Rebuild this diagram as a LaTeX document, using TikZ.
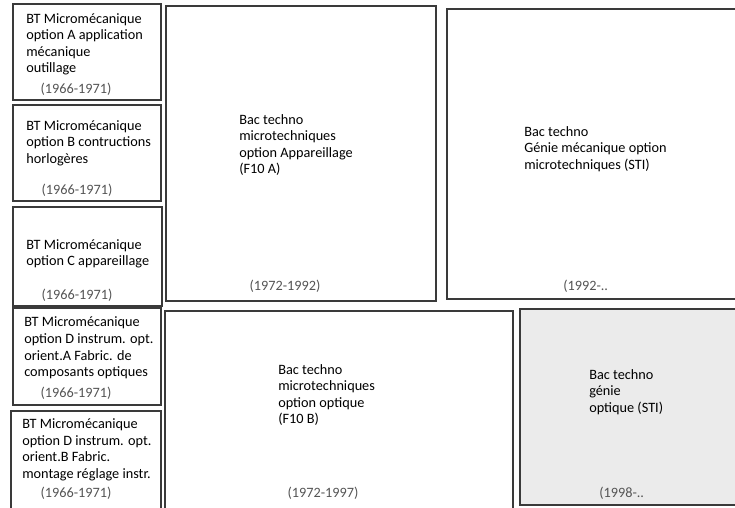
\documentclass[tikz,border=0pt]{standalone}
\usepackage{fontspec}
\setmainfont{Carlito}
\usepackage{tikz}
\usetikzlibrary{fit}
\definecolor{bxedge}{RGB}{58,58,58}
\definecolor{bxgrey}{RGB}{235,235,235}
\definecolor{yrink}{RGB}{85,85,85}
\tikzset{
  cell/.style={draw=bxedge, line width=1.5pt, inner sep=0pt, fill=white},
  greycell/.style={cell, fill=bxgrey},
  txt/.style={align=left, inner sep=0pt, anchor=west,
    font=\fontsize{10.7}{12.4}\selectfont},
  yr/.style={inner sep=0pt, text=yrink, font=\fontsize{10.7}{12.4}\selectfont}
}

\begin{document}
\begin{tikzpicture}[x=0.75pt, y=-0.75pt]
  \useasboundingbox (0,0) rectangle (735,507);
  \clip (0,0) rectangle (735,507);
  % BT column
  \node[cell, fit={(13,4) (161,100)}] (btA) {};
  \node[cell, fit={(13,105) (161,201)}] (btB) {};
  \node[cell, fit={(13,207) (162,306)}] (btC) {};
  \node[cell, fit={(13,308) (161,405)}] (btDA) {};
  \node[cell, fit={(11,411) (161,520)}] (btDB) {};
  % Bac techno
  \node[cell, fit={(166,6) (436,301)}] (fA) {};
  \node[cell, fit={(447,9) (750,299)}] (sti) {};
  \node[cell, fit={(165,311) (513,520)}] (fB) {};
  \node[greycell, fit={(520,309) (750,505)}] (opt) {};

  \node[txt] (btAt) at (26,44.5) {BT Micromécanique\\option A application\\mécanique\\outillage};
  \node[yr] (btAy) at (76,89) {(1966-1971)};
  \node[txt] (btBt) at (26,143) {BT Micromécanique\\option B contructions\\horlogères};
  \node[yr] (btBy) at (77,190) {(1966-1971)};
  \node[txt] (btCt) at (26,254) {BT Micromécanique\\option C appareillage};
  \node[yr] (btCy) at (77,295) {(1966-1971)};
  \node[txt] (btDAt) at (24,348) {BT Micromécanique\\option D instrum. opt.\\orient.A Fabric. de\\composants optiques};
  \node[yr] (btDAy) at (76,393) {(1966-1971)};
  \node[txt] (btDBt) at (22,450) {BT Micromécanique\\option D instrum. opt.\\orient.B Fabric.\\montage réglage instr.};
  \node[yr] (btDBy) at (76,493) {(1966-1971)};

  \node[txt] (fAt) at (239,145) {Bac techno\\microtechniques\\option Appareillage\\(F10 A)};
  \node[yr] (fAy) at (285,286) {(1972-1992)};
  \node[txt] (stit) at (524,149) {Bac techno\\Génie mécanique option\\microtechniques (STI)};
  \node[yr, anchor=west] (stiy) at (563,286) {(1992-..};
  \node[txt] (fBt) at (278,395) {Bac techno\\microtechniques\\option optique\\(F10 B)};
  \node[yr] (fBy) at (323,493) {(1972-1997)};
  \node[txt] (optt) at (589,392) {Bac techno\\génie\\optique (STI)};
  \node[yr, anchor=west] (opty) at (599,493) {(1998-..};
\end{tikzpicture}
\end{document}
